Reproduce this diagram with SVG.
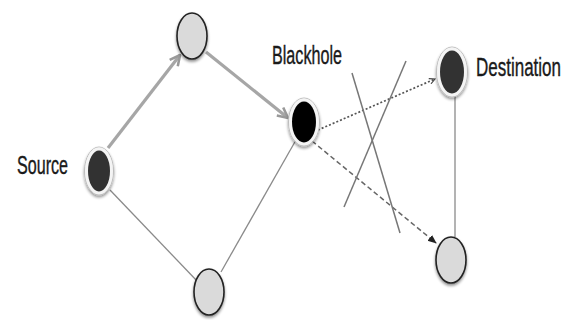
<svg xmlns="http://www.w3.org/2000/svg" width="567" height="320" viewBox="0 0 567 320">
  <defs>
    <style>
      .label { font-family: "Liberation Sans", Arial, sans-serif; font-size: 16.5px; fill: #1a1a1a; stroke: #1a1a1a; stroke-width: 0.25; }
      .thick { stroke: #a6a6a6; stroke-width: 3.2; fill: none; }
      .thin { stroke: #8a8a8a; stroke-width: 1.3; fill: none; }
      .cross { stroke: #777; stroke-width: 1.5; fill: none; }
      .dots { stroke: #555; stroke-width: 1.7; stroke-dasharray: 2 2; fill: none; }
      .dash { stroke: #666; stroke-width: 1.5; stroke-dasharray: 5 3; fill: none; }
      .dark { fill: #333; stroke: #f4f4f4; stroke-width: 3; }
      .black { fill: #050505; stroke: #f4f4f4; stroke-width: 3; }
      .light { fill: #dadada; stroke: #222; stroke-width: 1.6; }
      .halo { fill: none; stroke: #bdbdbd; stroke-width: 1; }
    </style>
    <!-- soft drop shadow under each node -->
    <filter id="shadow" x="-50%" y="-50%" width="200%" height="200%">
      <feGaussianBlur in="SourceAlpha" stdDeviation="1.8"/>
      <feOffset dx="0" dy="2" result="b"/>
      <feComponentTransfer><feFuncA type="linear" slope="0.45"/></feComponentTransfer>
      <feMerge><feMergeNode/><feMergeNode in="SourceGraphic"/></feMerge>
    </filter>
    <marker id="openGray" viewBox="0 0 10 10" refX="9" refY="5" markerWidth="4" markerHeight="4" orient="auto">
      <path d="M1 1 L9 5 L1 9" fill="none" stroke="#999" stroke-width="2"/>
    </marker>
    <marker id="openDark" viewBox="0 0 10 10" refX="9" refY="5" markerWidth="7" markerHeight="7" orient="auto" markerUnits="userSpaceOnUse">
      <path d="M1 1 L9 5 L1 9" fill="none" stroke="#444" stroke-width="1.6"/>
    </marker>
    <marker id="solidDark" viewBox="0 0 10 10" refX="9" refY="5" markerWidth="9" markerHeight="9" orient="auto" markerUnits="userSpaceOnUse">
      <path d="M0 1 L10 5 L0 9 Z" fill="#222"/>
    </marker>
  </defs>

  <g id="connectors">
    <line class="thick" x1="108" y1="148" x2="180" y2="55" marker-end="url(#openGray)"/>
    <line class="thick" x1="206" y1="52" x2="288" y2="118" marker-end="url(#openGray)"/>
    <line class="thin" x1="110" y1="190" x2="198" y2="282"/>
    <line class="thin" x1="221" y1="272" x2="296" y2="140"/>
    <line class="dots" x1="318" y1="130" x2="435" y2="79" marker-end="url(#openDark)"/>
    <line class="dash" x1="312" y1="141" x2="436" y2="243" marker-end="url(#solidDark)"/>
    <line class="thin" x1="455" y1="96" x2="455" y2="237"/>
    <line class="cross" x1="352" y1="73" x2="400" y2="233"/>
    <line class="cross" x1="406" y1="61" x2="344" y2="207"/>
  </g>

  <g id="source">
    <g filter="url(#shadow)">
      <ellipse class="halo" cx="99" cy="171" rx="14.5" ry="24"/>
      <ellipse class="dark" cx="99" cy="171" rx="12.5" ry="22"/>
    </g>
    <text class="label" transform="translate(17 174) scale(1 1.6)" textLength="51" lengthAdjust="spacingAndGlyphs">Source</text>
  </g>

  <g id="relay-top" filter="url(#shadow)">
    <ellipse class="light" cx="192" cy="36" rx="15" ry="23"/>
  </g>

  <g id="relay-bottom" filter="url(#shadow)">
    <ellipse class="light" cx="209" cy="292" rx="15" ry="23"/>
  </g>

  <g id="blackhole">
    <g filter="url(#shadow)">
      <ellipse class="halo" cx="304" cy="122" rx="15.5" ry="24"/>
      <ellipse class="black" cx="304" cy="122" rx="13.5" ry="22"/>
    </g>
    <text class="label" transform="translate(272 64) scale(1 1.6)" textLength="70" lengthAdjust="spacingAndGlyphs">Blackhole</text>
  </g>

  <g id="destination">
    <g filter="url(#shadow)">
      <ellipse class="halo" cx="452" cy="72" rx="15.5" ry="25"/>
      <ellipse class="dark" cx="452" cy="72" rx="13.5" ry="23"/>
    </g>
    <text class="label" transform="translate(476 76) scale(1 1.6)" textLength="85" lengthAdjust="spacingAndGlyphs">Destination</text>
  </g>

  <g id="neighbor" filter="url(#shadow)">
    <ellipse class="light" cx="451" cy="260" rx="15" ry="23"/>
  </g>
</svg>
